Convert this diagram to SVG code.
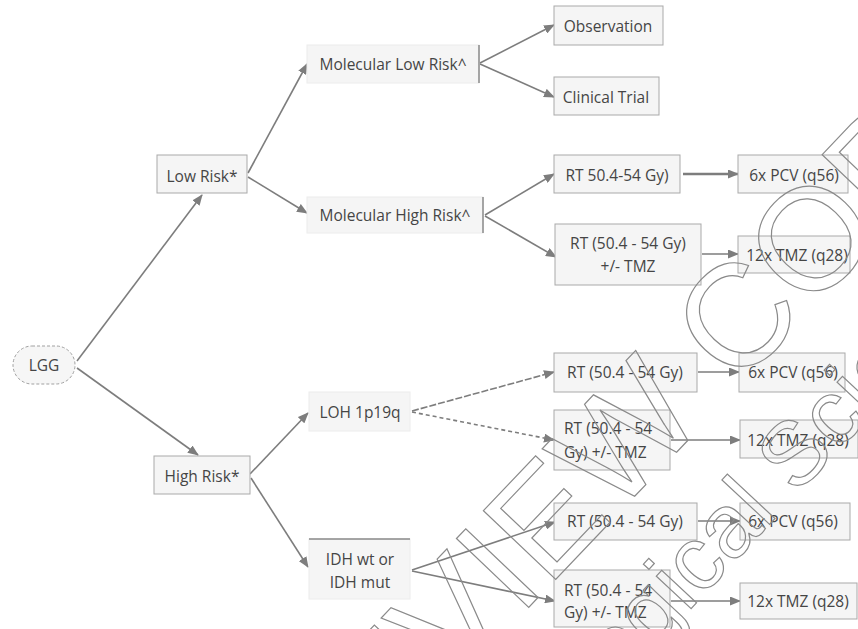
<svg xmlns="http://www.w3.org/2000/svg" width="858" height="629" viewBox="0 0 858 629">
<style>
.bx{fill:#f5f5f5;stroke:#a9a9a9;stroke-width:1}
.sf{fill:#f5f5f5;stroke:#ececec;stroke-width:1}
.pill{fill:#f6f6f6;stroke:#a0a0a0;stroke-width:1;stroke-dasharray:3 2}
.edge{stroke:#8a8a8a;stroke-width:1.5}
.t{font-family:"Open Sans","Noto Sans",sans-serif;font-size:15.5px;fill:#454545;text-anchor:middle;dominant-baseline:central}
.tl{text-anchor:start}
.c{fill:none;stroke:#7d7d7d;stroke-width:1.6}
.th{stroke-width:2.4}
.d1{stroke-dasharray:7 2}
.d2{stroke-dasharray:4 3}
.wm{font-family:"Liberation Sans",Arial,sans-serif;fill:none;stroke:#8a8a8a;stroke-width:1.2}
</style>
<defs>
<marker id="ah" markerUnits="userSpaceOnUse" markerWidth="11" markerHeight="9" refX="10" refY="4.5" orient="auto">
<path d="M0,0 L11,4.5 L0,9 z" fill="#7d7d7d"/>
</marker>
</defs>
<rect width="858" height="629" fill="#ffffff"/>

<g id="connectors">
<line class="c" x1="77" y1="361" x2="202" y2="195" marker-end="url(#ah)"/>
<line class="c" x1="77" y1="368" x2="198" y2="455" marker-end="url(#ah)"/>
<line class="c" x1="248" y1="173" x2="307" y2="64" marker-end="url(#ah)"/>
<line class="c" x1="248" y1="177" x2="307" y2="213" marker-end="url(#ah)"/>
<line class="c" x1="480" y1="63" x2="554" y2="25" marker-end="url(#ah)"/>
<line class="c" x1="480" y1="64" x2="554" y2="97" marker-end="url(#ah)"/>
<line class="c" x1="485" y1="215" x2="554" y2="174" marker-end="url(#ah)"/>
<line class="c" x1="485" y1="216" x2="556" y2="257" marker-end="url(#ah)"/>
<line class="c th" x1="683" y1="174" x2="738" y2="174" marker-end="url(#ah)"/>
<line class="c" x1="702" y1="254" x2="738" y2="254" marker-end="url(#ah)"/>
<line class="c" x1="250" y1="474" x2="308" y2="413" marker-end="url(#ah)"/>
<line class="c" x1="251" y1="478" x2="308" y2="567" marker-end="url(#ah)"/>
<line class="c d1" x1="412" y1="411" x2="554" y2="372" marker-end="url(#ah)"/>
<line class="c d2" x1="412" y1="412" x2="554" y2="440" marker-end="url(#ah)"/>
<line class="c" x1="698" y1="372" x2="739" y2="372" marker-end="url(#ah)"/>
<line class="c" x1="671" y1="440" x2="740" y2="440" marker-end="url(#ah)"/>
<line class="c" x1="412" y1="570" x2="555" y2="522" marker-end="url(#ah)"/>
<line class="c" x1="412" y1="571" x2="555" y2="601" marker-end="url(#ah)"/>
<line class="c" x1="698" y1="521" x2="740" y2="521" marker-end="url(#ah)"/>
<line class="c" x1="671" y1="601" x2="740" y2="601" marker-end="url(#ah)"/>
</g>

<g id="lgg"><rect class="pill" x="13" y="346" width="62" height="38" rx="19"/><text class="t" x="44" y="365">LGG</text></g>
<g id="lowrisk"><rect class="bx" x="157" y="155" width="90" height="38"/><text class="t" x="202" y="176">Low Risk*</text></g>
<g id="highrisk"><rect class="bx" x="154" y="456" width="96" height="38"/><text class="t" x="202" y="476">High Risk*</text></g>
<g id="mollow"><rect class="sf" x="307" y="45" width="172" height="38"/><line class="edge" x1="479" y1="45" x2="479" y2="83"/><text class="t" x="393" y="64">Molecular Low Risk^</text></g>
<g id="molhigh"><rect class="sf" x="307" y="197" width="176" height="36"/><line class="edge" x1="483" y1="197" x2="483" y2="233"/><text class="t" x="395" y="215">Molecular High Risk^</text></g>
<g id="obs"><rect class="bx" x="554" y="6" width="109" height="39"/><text class="t" x="608" y="26">Observation</text></g>
<g id="clin"><rect class="bx" x="554" y="77" width="105" height="38"/><text class="t" x="606" y="97">Clinical Trial</text></g>
<g id="rt1"><rect class="bx" x="554" y="155" width="126" height="38"/><text class="t" x="617" y="175">RT 50.4-54 Gy)</text></g>
<g id="pcv1"><rect class="bx" x="738" y="155" width="110" height="38"/><text class="t" x="794" y="175">6x PCV (q56)</text></g>
<g id="rtt1"><rect class="bx" x="555" y="224" width="146" height="61"/><text class="t" x="628" y="243">RT (50.4 - 54 Gy)</text><text class="t" x="628" y="266">+/- TMZ</text></g>
<g id="tmz1"><rect class="bx" x="738" y="236" width="112" height="37"/><text class="t" x="797" y="255">12x TMZ (q28)</text></g>
<g id="loh"><rect class="sf" x="309" y="392" width="101" height="39"/><text class="t" x="360" y="412">LOH 1p19q</text></g>
<g id="rt2"><rect class="bx" x="554" y="353" width="143" height="39"/><text class="t" x="625" y="372">RT (50.4 - 54 Gy)</text></g>
<g id="pcv2"><rect class="bx" x="739" y="353" width="106" height="39"/><text class="t" x="793" y="372">6x PCV (q56)</text></g>
<g id="rtt2"><rect class="bx" x="554" y="410" width="116" height="60"/><text class="t tl" x="564" y="428">RT (50.4 - 54</text><text class="t tl" x="564" y="452">Gy) +/- TMZ</text></g>
<g id="tmz2"><rect class="bx" x="740" y="420" width="118" height="38"/><text class="t" x="798" y="440">12x TMZ (q28)</text></g>
<g id="idh"><rect class="sf" x="309" y="539" width="101" height="60"/><line class="edge" x1="309" y1="539" x2="410" y2="539"/><text class="t" x="360" y="559">IDH wt or</text><text class="t" x="360" y="582">IDH mut</text></g>
<g id="rt3"><rect class="bx" x="554" y="503" width="143" height="37"/><text class="t" x="625" y="521">RT (50.4 - 54 Gy)</text></g>
<g id="pcv3"><rect class="bx" x="740" y="503" width="110" height="37"/><text class="t" x="793" y="521">6x PCV (q56)</text></g>
<g id="rtt3"><rect class="bx" x="554" y="570" width="116" height="57"/><text class="t tl" x="564" y="590">RT (50.4 - 54</text><text class="t tl" x="564" y="612">Gy) +/- TMZ</text></g>
<g id="tmz3"><rect class="bx" x="740" y="583" width="117" height="36"/><text class="t" x="798" y="601">12x TMZ (q28)</text></g>

<g id="watermark">
<text class="wm" font-size="145" transform="translate(314,833) rotate(-46.4)">REVIEW COPY</text>
<text class="wm" font-size="90" transform="translate(438,880) rotate(-47)">Neurological Sciences</text>
</g>
</svg>
